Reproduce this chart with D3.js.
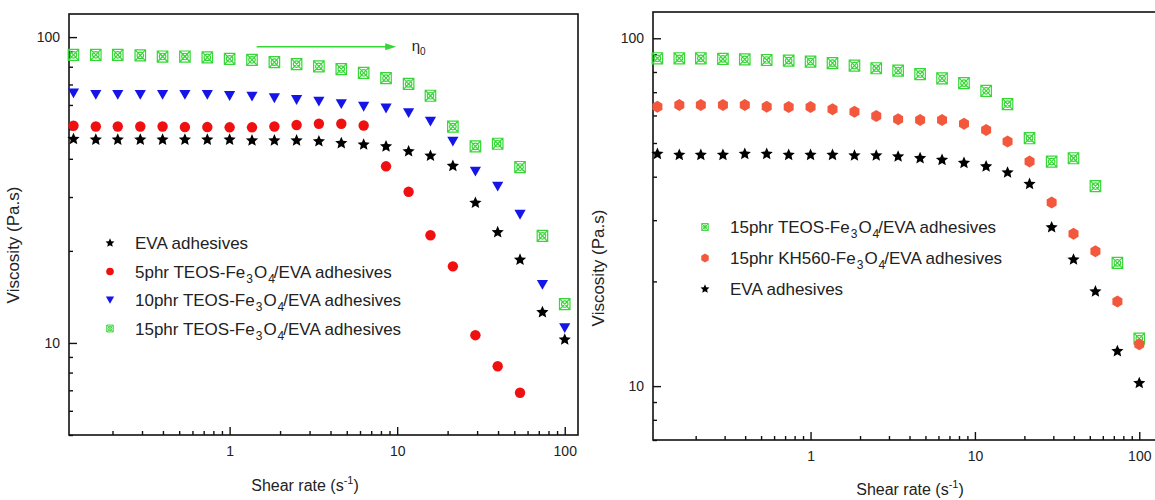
<!DOCTYPE html>
<html>
<head>
<meta charset="utf-8">
<script src="https://cdn.jsdelivr.net/npm/d3@7"></script>
<style>
  body { margin: 0; background: #fff; }
  text { font-family: "Liberation Sans", Arial, sans-serif; fill: #222; }
</style>
</head>
<body>
<svg id="chart" width="1155" height="500"></svg>
<script>
// shear rate ramp (s^-1), same steps for every sample
const shearRate = [0.117, 0.159, 0.215, 0.293, 0.398, 0.541, 0.736, 1, 1.36, 1.85, 2.51, 3.41,
  4.64, 6.31, 8.58, 11.7, 15.8, 21.5, 29.3, 39.8, 54.1, 73.6, 100];

// left panel, viscosity in Pa.s
const evaLeft = [46.4, 46.2, 46.2, 46.2, 46.2, 46.2, 46.2, 46.2, 45.9, 45.9, 45.9, 45.6,
  45.0, 44.5, 43.9, 42.3, 40.9, 37.9, 28.7, 23.0, 18.7, 12.6, 10.25];
const teos5Left = [51.3, 51.0, 51.0, 51.0, 51.0, 50.8, 50.8, 50.7, 50.7, 51.0, 51.6, 52.1,
  52.1, 51.4, 37.8, 31.2, 22.5, 17.8, 10.6, 8.39, 6.87];
const teos10Left = [65.6, 64.8, 64.8, 64.8, 64.8, 64.8, 64.8, 64.3, 64.0, 63.2, 62.4, 61.6,
  60.5, 59.3, 58.5, 56.5, 53.0, 45.6, 36.4, 32.5, 26.3, 15.5, 11.2];
const teos15Left = [87.5, 87.5, 87.5, 87.1, 86.4, 86.4, 85.8, 84.9, 84.3, 82.8, 81.6, 80.2,
  78.6, 76.4, 73.4, 70.3, 64.3, 51.0, 43.9, 44.8, 37.6, 22.4, 13.4];

// right panel, viscosity in Pa.s
const teos15Right = [87.6, 87.6, 87.6, 87.2, 87.0, 86.6, 86.2, 85.7, 84.8, 83.4, 82.0, 80.7,
  78.9, 76.7, 74.3, 70.6, 64.7, 51.6, 44.2, 45.2, 37.6, 22.6, 13.7];
const kh560Right = [63.6, 64.3, 64.3, 64.3, 64.3, 63.6, 63.4, 63.4, 62.5, 61.5, 59.8, 58.5,
  58.2, 58.2, 56.8, 54.5, 50.5, 44.2, 33.7, 27.4, 24.4, 17.5, 13.2];
const evaRight = [46.5, 46.2, 46.2, 46.2, 46.5, 46.5, 46.2, 46.2, 46.2, 46.0, 46.0, 45.7,
  45.2, 44.7, 43.8, 42.8, 41.1, 38.1, 28.6, 23.1, 18.7, 12.6, 10.2];

// ticks
const xMajor = [1, 10, 100];
const xMinor = [0.2, 0.3, 0.4, 0.5, 0.6, 0.7, 0.8, 0.9, 2, 3, 4, 5, 6, 7, 8, 9,
  20, 30, 40, 50, 60, 70, 80, 90];
const yMajor = [10, 100];
const yMinorLeft = [5, 6, 7, 8, 9, 20, 30, 40, 50, 60, 70, 80, 90];
const yMinorRight = [7, 8, 9, 20, 30, 40, 50, 60, 70, 80, 90];

// legend labels: [text before sub 3, text after sub 4]
const legendLeft = [
  ["EVA adhesives", null],
  ["5phr TEOS-Fe", "/EVA adhesives"],
  ["10phr TEOS-Fe", "/EVA adhesives"],
  ["15phr TEOS-Fe", "/EVA adhesives"]
];
const legendRight = [
  ["15phr TEOS-Fe", "/EVA adhesives"],
  ["15phr KH560-Fe", "/EVA adhesives"],
  ["EVA adhesives", null]
];

const svg = d3.select("#chart");

// custom marker shapes (size = width squared)
const fatStar = {
  draw(ctx, size) {
    const R = Math.sqrt(size) / 1.9;
    const r = R * 0.46;
    for (let k = 0; k < 10; k++) {
      const a = -Math.PI / 2 + k * Math.PI / 5;
      const rad = k % 2 ? r : R;
      if (k === 0) ctx.moveTo(rad * Math.cos(a), rad * Math.sin(a));
      else ctx.lineTo(rad * Math.cos(a), rad * Math.sin(a));
    }
    ctx.closePath();
  }
};
const triangleDown = {
  draw(ctx, size) {
    const w = Math.sqrt(size);
    ctx.moveTo(-w / 2, -w * 0.42);
    ctx.lineTo(w / 2, -w * 0.42);
    ctx.lineTo(0, w * 0.46);
    ctx.closePath();
  }
};
const hexagon = {
  draw(ctx, size) {
    const w = Math.sqrt(size);
    ctx.moveTo(0, -0.6 * w);
    ctx.lineTo(0.5 * w, -0.3 * w);
    ctx.lineTo(0.5 * w, 0.3 * w);
    ctx.lineTo(0, 0.6 * w);
    ctx.lineTo(-0.5 * w, 0.3 * w);
    ctx.lineTo(-0.5 * w, -0.3 * w);
    ctx.closePath();
  }
};
const crossSquare = {
  draw(ctx, size) {
    const w = Math.sqrt(size) / 2;
    const h = w * 1.05;
    ctx.moveTo(-w, -h);
    ctx.lineTo(w, -h);
    ctx.lineTo(w, h);
    ctx.lineTo(-w, h);
    ctx.closePath();
    ctx.moveTo(-w, -h);
    ctx.lineTo(w, h);
    ctx.moveTo(w, -h);
    ctx.lineTo(-w, h);
    ctx.moveTo(w * 0.62, 0);
    ctx.arc(0, 0, w * 0.62, 0, 2 * Math.PI);
  }
};

const styles = {
  eva: { type: fatStar, size: 150, legendSize: 80, fill: "#000", stroke: "none" },
  teos5: { type: d3.symbolCircle, size: 85, legendSize: 46, fill: "#f01010", stroke: "none" },
  teos10: { type: triangleDown, size: 125, legendSize: 68, fill: "#1515e8", stroke: "none" },
  teos15: { type: crossSquare, size: 110, legendSize: 42, fill: "none", stroke: "#36d636" },
  kh560: { type: hexagon, size: 100, legendSize: 56, fill: "#f4583c", stroke: "none" }
};

function drawMarkers(g, x, y, values, st) {
  g.append("g")
    .selectAll("path")
    .data(values)
    .join("path")
    .attr("transform", (d, i) => `translate(${x(shearRate[i])},${y(d)})`)
    .attr("d", d3.symbol(st.type, st.size))
    .attr("fill", st.fill)
    .attr("stroke", st.stroke)
    .attr("stroke-width", 1.2);
}

function drawLegend(g, x0, y0, step, labels, keys) {
  labels.forEach((lab, i) => {
    const st = styles[keys[i]];
    const cy = y0 + i * step;
    g.append("path")
      .attr("transform", `translate(${x0},${cy})`)
      .attr("d", d3.symbol(st.type, st.legendSize))
      .attr("fill", st.fill)
      .attr("stroke", st.stroke);
    const t = g.append("text")
      .attr("x", x0 + 25)
      .attr("y", cy + 6)
      .style("font-size", "17px");
    t.append("tspan").text(lab[0]);
    if (lab[1]) {
      t.append("tspan").attr("dy", 5).attr("dx", 1).style("font-size", "12px").text("3");
      t.append("tspan").attr("dy", -5).attr("dx", 1).text("O");
      t.append("tspan").attr("dy", 5).attr("dx", 1).style("font-size", "12px").text("4");
      t.append("tspan").attr("dy", -5).attr("dx", -1).text(lab[1]);
    }
  });
}

function drawPanel(p) {
  const x = d3.scaleLog().domain(p.xDomain).range(p.xRange);
  const y = d3.scaleLog().domain(p.yDomain).range(p.yRange);
  const g = svg.append("g");

  // minor + major ticks, pointing into the plot
  g.append("g")
    .attr("transform", `translate(0,${p.yRange[0]})`)
    .call(d3.axisBottom(x).tickValues(xMinor).tickSize(-4).tickFormat(""));
  g.append("g")
    .attr("transform", `translate(0,${p.yRange[0]})`)
    .call(d3.axisBottom(x).tickValues(xMajor).tickSize(-8).tickPadding(11).tickFormat(d3.format("d")));
  g.append("g")
    .attr("transform", `translate(${p.xRange[0]},0)`)
    .call(d3.axisLeft(y).tickValues(p.yMinor).tickSize(-4).tickFormat(""));
  g.append("g")
    .attr("transform", `translate(${p.xRange[0]},0)`)
    .call(d3.axisLeft(y).tickValues(yMajor).tickSize(-8).tickPadding(9).tickFormat(d3.format("d")));
  g.selectAll(".domain").remove();
  g.selectAll(".tick line").attr("stroke", "#111").attr("stroke-width", 1.4);
  g.selectAll(".tick text").style("font-size", "14px").attr("fill", "#222");

  // frame
  g.append("rect")
    .attr("x", p.xRange[0])
    .attr("y", p.yRange[1])
    .attr("width", p.xRange[1] - p.xRange[0])
    .attr("height", p.yRange[0] - p.yRange[1])
    .attr("fill", "none")
    .attr("stroke", "#111")
    .attr("stroke-width", 1.6);

  // axis titles
  g.append("text")
    .attr("transform", `translate(${p.yTitle[0]},${p.yTitle[1]}) rotate(-90)`)
    .attr("text-anchor", "middle")
    .style("font-size", "17px")
    .text("Viscosity (Pa.s)");
  const xt = g.append("text")
    .attr("x", p.xTitle[0])
    .attr("y", p.xTitle[1])
    .attr("text-anchor", "middle")
    .style("font-size", "16px");
  xt.append("tspan").text("Shear rate (s");
  xt.append("tspan").attr("dy", -7).style("font-size", "11px").text("-1");
  xt.append("tspan").attr("dy", 7).text(")");

  p.series.forEach(s => drawMarkers(g, x, y, s.values, styles[s.key]));
  drawLegend(g, p.legend[0], p.legend[1], p.legend[2], p.legendLabels, p.legendKeys);
  return { g, x, y };
}

const left = drawPanel({
  xDomain: [0.11, 120], xRange: [69, 578],
  yDomain: [5, 119], yRange: [435, 14],
  yMinor: yMinorLeft,
  yTitle: [19, 245], xTitle: [305, 491],
  series: [
    { key: "teos15", values: teos15Left },
    { key: "teos10", values: teos10Left },
    { key: "teos5", values: teos5Left },
    { key: "eva", values: evaLeft }
  ],
  legend: [110, 243, 28.5],
  legendLabels: legendLeft,
  legendKeys: ["eva", "teos5", "teos10", "teos15"]
});

drawPanel({
  xDomain: [0.11, 130], xRange: [653, 1158],
  yDomain: [7, 119], yRange: [440, 12],
  yMinor: yMinorRight,
  yTitle: [604, 268], xTitle: [910, 495],
  series: [
    { key: "teos15", values: teos15Right },
    { key: "kh560", values: kh560Right },
    { key: "eva", values: evaRight }
  ],
  legend: [705, 227, 31],
  legendLabels: legendRight,
  legendKeys: ["teos15", "kh560", "eva"]
});

// zero-shear viscosity arrow on the left panel
const arrowY = left.y(93);
const arrowEnd = left.x(9.6) + 2;
left.g.append("line")
  .attr("x1", left.x(1.45)).attr("x2", arrowEnd - 6)
  .attr("y1", arrowY).attr("y2", arrowY)
  .attr("stroke", "#36d636").attr("stroke-width", 1.3);
left.g.append("path")
  .attr("transform", `translate(${arrowEnd},${arrowY})`)
  .attr("d", "M0,0L-11,-3.5L-11,3.5Z")
  .attr("fill", "#36d636");
const eta = left.g.append("text")
  .attr("x", left.x(12.2))
  .attr("y", arrowY + 4)
  .style("font-size", "15px")
  .attr("fill", "#333");
eta.append("tspan").text("η");
eta.append("tspan").attr("dy", 4).style("font-size", "10px").text("0");
</script>
</body>
</html>
